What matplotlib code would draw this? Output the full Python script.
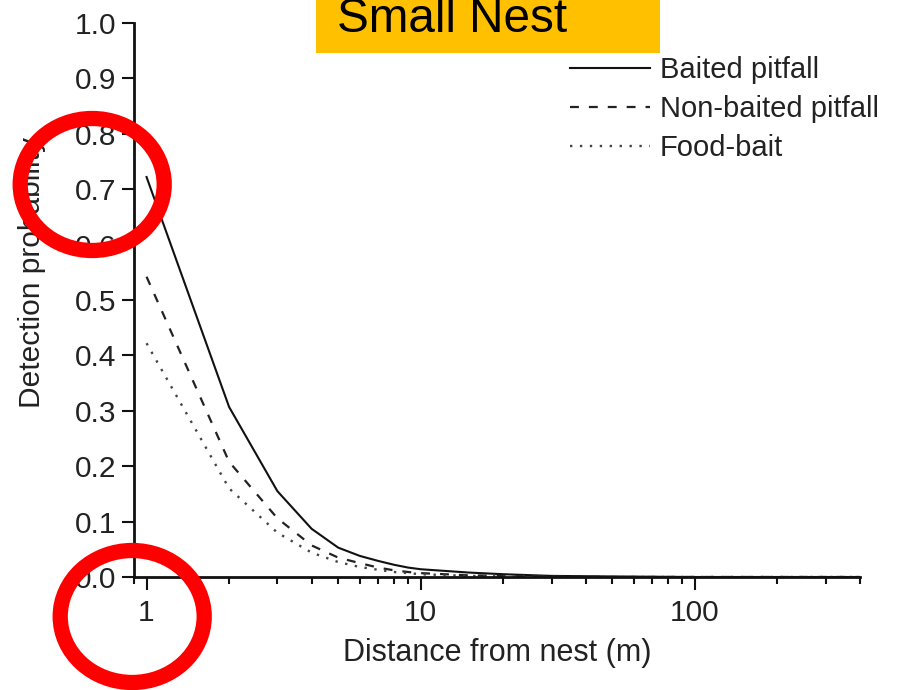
import matplotlib
matplotlib.use("Agg")
import matplotlib.pyplot as plt
from matplotlib.patches import Ellipse, Rectangle
from matplotlib.ticker import LogLocator, NullFormatter, FixedLocator, FixedFormatter

plt.rcParams['font.family'] = ['Liberation Sans', 'DejaVu Sans']

# ---- data ----
distance = [1, 2, 3, 4, 5, 6, 7, 8, 9, 10, 15, 20, 30, 50, 100, 200, 400]
baited = [0.722, 0.307, 0.155, 0.087, 0.053, 0.038, 0.029, 0.022, 0.017, 0.014,
          0.008, 0.005, 0.002, 0.001, 0.0, 0.0, 0.0]
non_baited = [0.542, 0.208, 0.106, 0.057, 0.035, 0.025, 0.017, 0.012, 0.009, 0.007,
              0.003, 0.002, 0.001, 0.0, 0.0, 0.0, 0.0]
food_bait = [0.422, 0.160, 0.080, 0.044, 0.027, 0.018, 0.013, 0.009, 0.007, 0.005,
             0.002, 0.001, 0.0, 0.0, 0.0, 0.0, 0.0]
series_labels = ["Baited pitfall", "Non-baited pitfall", "Food-bait"]
x_major_ticks = [1, 10, 100]
x_tick_labels = ["1", "10", "100"]
y_ticks = [0.0, 0.1, 0.2, 0.3, 0.4, 0.5, 0.6, 0.7, 0.8, 0.9, 1.0]
y_tick_labels = [f"{v:.1f}" for v in y_ticks]
title_text = "Small Nest"
x_label = "Distance from nest (m)"
y_label = "Detection probability"

W, H = 904, 690
fig = plt.figure(figsize=(W / 100, H / 100), dpi=100)
ax = fig.add_axes([134 / W, 1 - 577 / H, (860 - 134) / W, (577 - 23) / H])

ax.plot(distance, baited, color='#111111', lw=1.5, ls='-', label=series_labels[0])
ax.plot(distance, non_baited, color='#222222', lw=1.6, ls=(0, (4, 4.5)), label=series_labels[1])
ax.plot(distance, food_bait, color='#444444', lw=1.7, ls=(0, (1, 3.2)), label=series_labels[2])

ax.set_xscale('log')
ax.set_xlim(0.9, 400)
ax.set_ylim(0, 1.0)

ax.xaxis.set_major_locator(FixedLocator(x_major_ticks))
ax.xaxis.set_major_formatter(FixedFormatter(x_tick_labels))
ax.xaxis.set_minor_locator(LogLocator(base=10, subs=(2, 3, 4, 5, 6, 7, 8, 9)))
ax.xaxis.set_minor_formatter(NullFormatter())
ax.set_yticks(y_ticks)
ax.set_yticklabels(y_tick_labels)

for s in ['top', 'right']:
    ax.spines[s].set_visible(False)
for s in ['left', 'bottom']:
    ax.spines[s].set_linewidth(2.0)
    ax.spines[s].set_color('#111111')

ax.tick_params(axis='both', which='major', direction='out', width=1.5, colors='#111111',
               labelsize=21.5, labelcolor='#222222')
ax.tick_params(axis='y', which='major', length=8.5, pad=4)
ax.tick_params(axis='x', which='major', length=9.5, pad=6)
ax.tick_params(axis='x', which='minor', direction='out', length=5, width=1.5, colors='#111111')

ax.set_xlabel(x_label, fontsize=22, color='#222222', labelpad=8)
fig.text(32 / W, 1 - 272 / H, y_label, rotation=90, ha='center', va='center',
         fontsize=21.5, color='#222222')

leg = ax.legend(loc='upper left', bbox_to_anchor=(570 / W, 1 - 56 / H),
                bbox_transform=fig.transFigure, frameon=False, fontsize=21,
                handlelength=2.75, handletextpad=0.33, labelspacing=0.38,
                borderpad=0, borderaxespad=0)
for t in leg.get_texts():
    t.set_color('#222222')

# title box
fig.add_artist(Rectangle((316 / W, 1 - 52.7 / H), (660 - 316) / W, 52.7 / H + 0.01,
                         transform=fig.transFigure, facecolor='#FFC000', edgecolor='none',
                         zorder=5))
fig.text(336.7 / W, 1 - 31.7 / H, title_text, ha='left', va='baseline', fontsize=34.3,
         color='black', zorder=6)

# red annotation circles
for cx, cy in [(92.2, 184.5), (132.2, 616.5)]:
    fig.add_artist(Ellipse((cx / W, 1 - cy / H), 144 / W, 132 / H,
                           transform=fig.transFigure, fill=False, edgecolor='#FF0000',
                           linewidth=11, zorder=10))

fig.savefig('out.png', dpi=100)
